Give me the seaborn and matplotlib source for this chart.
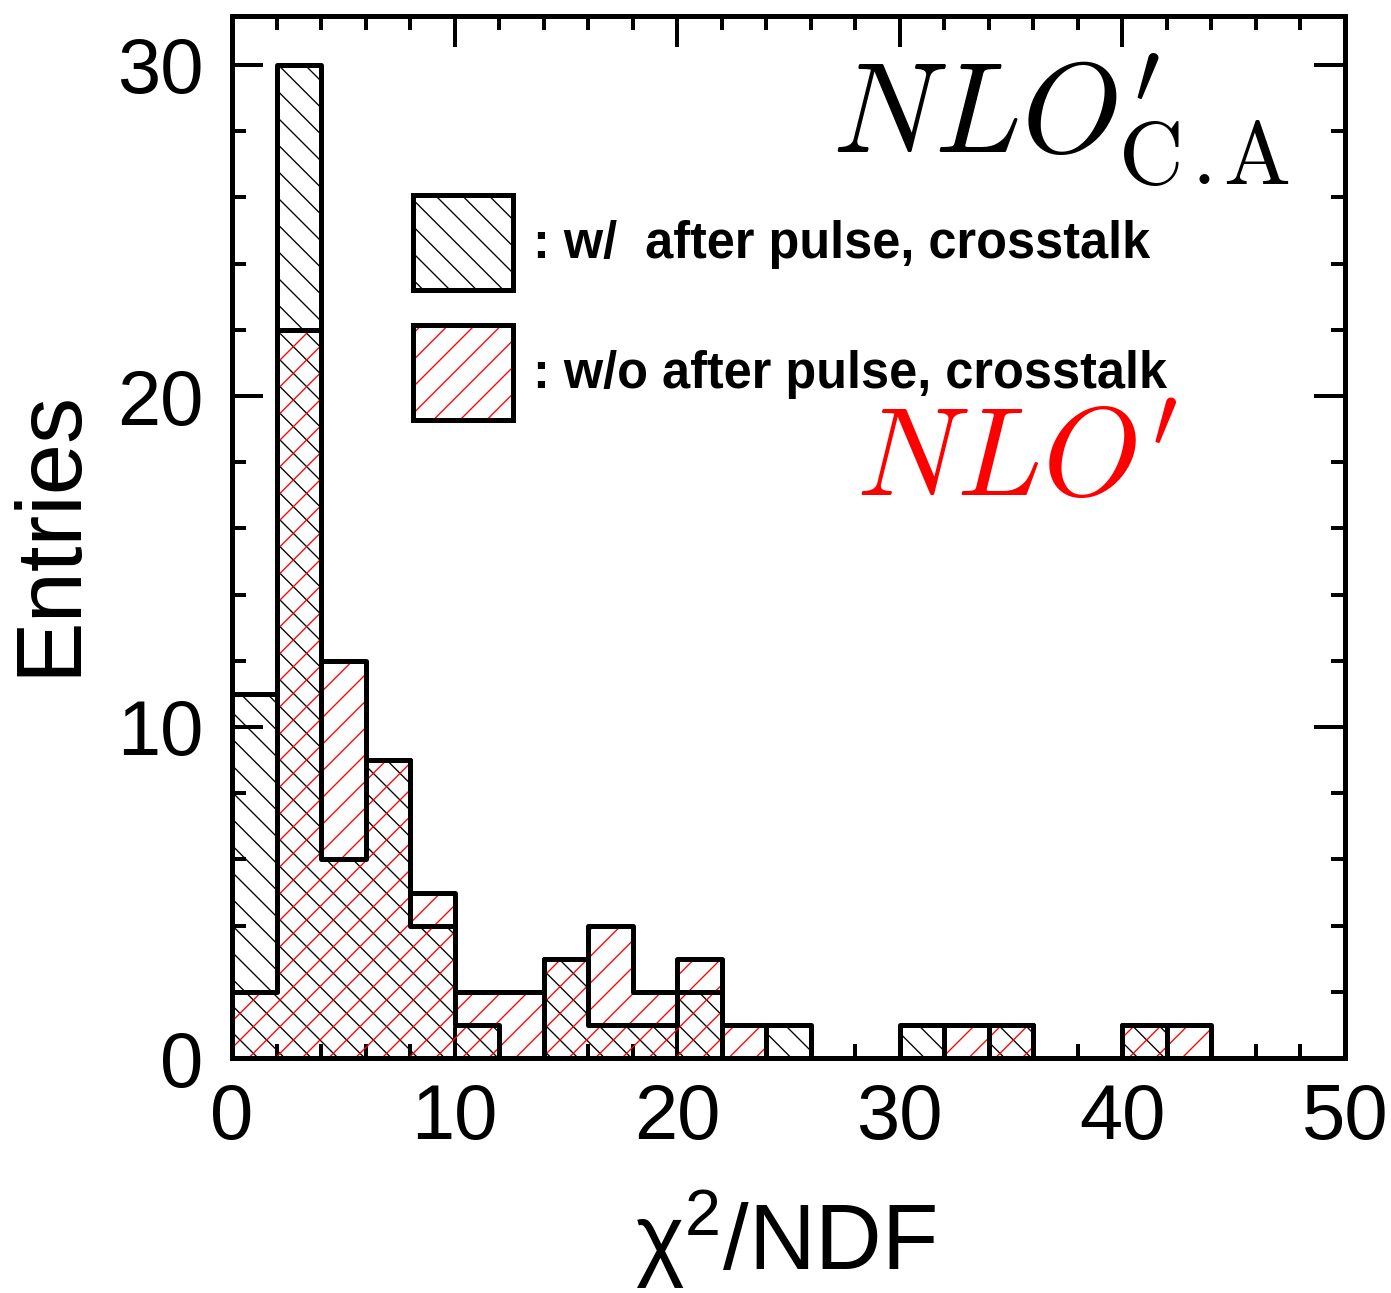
import numpy as np
import pandas as pd
import seaborn as sns
import matplotlib
matplotlib.use("Agg")
import matplotlib.pyplot as plt
from matplotlib.patches import Patch
from matplotlib.legend_handler import HandlerTuple
from matplotlib.ticker import MultipleLocator

# ---- data ----
bin_edges = list(range(0, 52, 2))
bin_centers = [e + 1 for e in bin_edges[:-1]]
counts_with = [11, 30, 6, 9, 4, 1, 0, 3, 1, 1, 2, 0, 1, 0, 0, 1, 0, 1, 0, 0, 1, 0, 0, 0, 0]
counts_without = [2, 22, 12, 9, 5, 2, 2, 3, 4, 2, 3, 1, 0, 0, 0, 0, 1, 1, 0, 0, 1, 1, 0, 0, 0]
label_with = ": w/  after pulse, crosstalk"
label_without = ": w/o after pulse, crosstalk"
x_ticks = [0, 10, 20, 30, 40, 50]
y_ticks = [0, 10, 20, 30]

df = pd.DataFrame({"x": bin_centers, "w": counts_with, "wo": counts_without})

sns.set_theme(style="ticks")
plt.rcParams["font.family"] = ["Liberation Sans", "DejaVu Sans"]
plt.rcParams["hatch.linewidth"] = 1.2
plt.rcParams["mathtext.fontset"] = "custom"
plt.rcParams["mathtext.rm"] = "Liberation Sans"
plt.rcParams["mathtext.it"] = "Liberation Sans:italic"
for k in ["text.color", "axes.labelcolor", "xtick.color", "ytick.color", "axes.edgecolor"]:
    plt.rcParams[k] = "black"

DPI = 80
fig = plt.figure(figsize=(1391 / DPI, 1293 / DPI), dpi=DPI)
ax = fig.add_axes([232 / 1391, 1 - 1058 / 1293, (1345 - 232) / 1391, (1058 - 16) / 1293])

LW = 4.5


def hatched(weights, color, hatch):
    sns.histplot(data=df, x="x", weights=weights, bins=bin_edges, element="step",
                 fill=True, ax=ax, color=color)
    coll = ax.collections[-1]
    coll.set_alpha(1)
    coll.set_facecolor("none")
    coll.set_edgecolor(color)
    if hasattr(coll, "set_hatchcolor"):
        coll.set_hatchcolor(color)
    coll.set_linewidth(0)
    coll.set_hatch(hatch)


hatched("w", "black", "\\")
hatched("wo", "red", "/")
sns.histplot(data=df, x="x", weights="w", bins=bin_edges, element="step",
             fill=False, ax=ax, color="black", linewidth=LW)
sns.histplot(data=df, x="x", weights="wo", bins=bin_edges, element="step",
             fill=False, ax=ax, color="black", linewidth=LW)

ax.set_xlim(0, 50)
ax.set_ylim(0, (1058 - 16) / 33.1)
ax.set_xticks(x_ticks)
ax.set_yticks(y_ticks)
ax.xaxis.set_minor_locator(MultipleLocator(2))
ax.yaxis.set_minor_locator(MultipleLocator(2))
ax.tick_params(which="both", direction="in", top=True, right=True, width=3.6,
               color="black", labelcolor="black")
ax.tick_params(which="major", length=28, labelsize=70, pad=22)
ax.tick_params(which="minor", length=13)
ax.tick_params(axis="y", which="major", pad=26)
for s in ax.spines.values():
    s.set_linewidth(4.5)
    s.set_color("black")
    s.set_visible(True)

ax.set_ylabel("Entries", fontsize=83, color="black")
ax.yaxis.set_label_coords(-0.125, 0.504)
ax.set_xlabel(r"χ$^{2}$/NDF", fontsize=83, color="black")
ax.xaxis.set_label_coords(0.497, -0.125)

# legend
h_with = (Patch(facecolor="none", edgecolor="black", hatch="\\", linewidth=0),
          Patch(fill=False, edgecolor="black", linewidth=LW))
h_without = (Patch(facecolor="none", edgecolor="red", hatch="/", linewidth=0),
             Patch(fill=False, edgecolor="black", linewidth=LW))
leg = ax.legend([h_with, h_without], [label_with, label_without],
                handler_map={tuple: HandlerTuple(ndivide=1, pad=0)},
                loc="upper left", bbox_to_anchor=((413 - 232) / 1113, (1058 - 195) / 1042),
                frameon=False, borderpad=0, borderaxespad=0,
                prop={"family": "Liberation Sans", "weight": "bold", "size": 45.5},
                handlelength=1.97, handleheight=2.51, handletextpad=0.4,
                labelspacing=0.69)
for t in leg.get_texts():
    t.set_color("black")

ax.text((1290 - 232) / 1113, (1058 - 152) / 1042,
        r"$NLO^{\prime}_{\mathrm{C}\hspace{0.1}\mathrm{.}\hspace{-0.1}\mathrm{A}}$",
        transform=ax.transAxes, ha="right", va="baseline", fontsize=115,
        color="black", math_fontfamily="cm")
ax.text((1178 - 232) / 1113, (1058 - 497) / 1042, r"$NLO^{\prime}$",
        transform=ax.transAxes, ha="right", va="baseline", fontsize=113,
        color="red", math_fontfamily="cm")

fig.savefig("out.png", dpi=DPI, facecolor="white")
